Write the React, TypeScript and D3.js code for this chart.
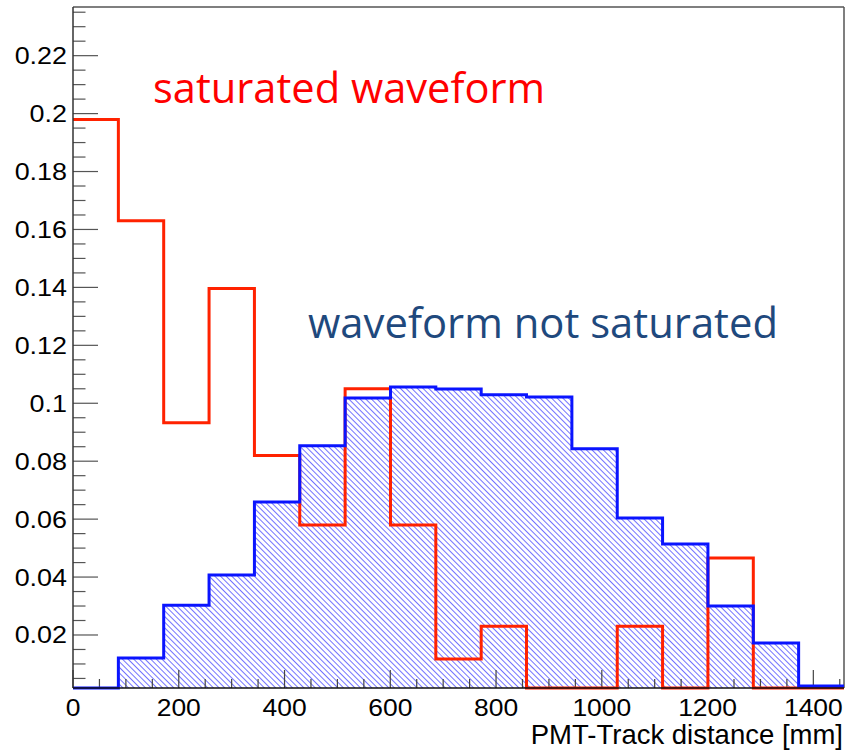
import React from "react";
import * as d3 from "d3";

const binEdges = [0, 85.8, 171.5, 257.3, 343.1, 428.8, 514.6, 600.4, 686.1, 771.9, 857.6, 943.4, 1029.2, 1114.9, 1200.7, 1286.5, 1372.2, 1458];
const saturated = [0.198, 0.163, 0.0933, 0.1396, 0.082, 0.058, 0.105, 0.058, 0.0117, 0.023, 0, 0, 0.023, 0, 0.0466, 0, 0];
const notSaturated = [0, 0.01205, 0.0303, 0.0407, 0.0659, 0.0853, 0.1018, 0.1056, 0.1049, 0.1029, 0.1022, 0.0843, 0.0604, 0.0514, 0.03, 0.0172, 0.0024];
const xTickValues = [0, 200, 400, 600, 800, 1000, 1200, 1400];
const yTickValues = [0.02, 0.04, 0.06, 0.08, 0.1, 0.12, 0.14, 0.16, 0.18, 0.2, 0.22];
const yTickLabels = ["0.02", "0.04", "0.06", "0.08", "0.1", "0.12", "0.14", "0.16", "0.18", "0.2", "0.22"];
const xTitle = "PMT-Track distance [mm]";
const labelSaturated = "saturated waveform";
const labelNotSaturated = "waveform not saturated";

const W = 848, H = 751;
const L = 73, R = 844, T = 7, B = 688;
const X_MAX = 1458, Y_MIN = 0.0017, Y_MAX = 0.2368;

export default function App() {
  const x = d3.scaleLinear().domain([0, X_MAX]).range([L, R]);
  const y = d3.scaleLinear().domain([Y_MIN, Y_MAX]).range([B, T]);
  const yc = (v: number) => y(Math.max(v, Y_MIN));

  const stepPath = (vals: number[]) => {
    let p = `M${x(binEdges[0])},${yc(vals[0])}`;
    vals.forEach((v, i) => {
      if (i > 0) p += `V${yc(v)}`;
      p += `H${x(binEdges[i + 1])}`;
    });
    return p;
  };
  const fillPath = (vals: number[]) => {
    let p = `M${x(binEdges[0])},${B}`;
    vals.forEach((v, i) => {
      p += `V${yc(v)}H${x(binEdges[i + 1])}`;
    });
    p += `V${B}Z`;
    return p;
  };

  const xMinor = d3.range(0, X_MAX, 50).filter((v) => v % 200 !== 0);
  const yMinor = d3.range(0.005, Y_MAX, 0.005).filter((v) => Math.abs(v / 0.02 - Math.round(v / 0.02)) > 1e-6);

  const tickFont = "'Liberation Sans', Arial, Helvetica, sans-serif";
  const axisCol = "#333";

  return (
    <svg width={W} height={H} style={{ position: "absolute", left: 0, top: 0, background: "#fff" }}>
      <defs>
        <pattern id="hatch" patternUnits="userSpaceOnUse" width={4} height={4} patternTransform="rotate(-45)">
          <line x1={0.5} y1={0} x2={0.5} y2={4} stroke="#0000ff" strokeWidth={1} opacity={0.55} />
        </pattern>
      </defs>
      <rect x={0} y={0} width={W} height={H} fill="#fff" />

      {/* hatched fill for not saturated */}
      <path d={fillPath(notSaturated)} fill="url(#hatch)" stroke="none" />

      {/* frame */}
      <line x1={L} y1={T} x2={R} y2={T} stroke="#555" strokeWidth={1.5} />
      <line x1={R} y1={T} x2={R} y2={B} stroke="#555" strokeWidth={1.5} />

      {/* y axis ticks */}
      {yTickValues.map((v) => (
        <line key={"ym" + v} x1={L} x2={L + 25} y1={y(v)} y2={y(v)} stroke="#555" strokeWidth={1.2} />
      ))}
      {yMinor.map((v) => (
        <line key={"yn" + v} x1={L} x2={L + 12.5} y1={y(v)} y2={y(v)} stroke="#555" strokeWidth={1.2} />
      ))}
      {/* x axis ticks */}
      {xTickValues.map((v) => (
        <line key={"xm" + v} x1={x(v)} x2={x(v)} y1={B} y2={B - 18} stroke="#444" strokeWidth={1.2} />
      ))}
      {xMinor.map((v) => (
        <line key={"xn" + v} x1={x(v)} x2={x(v)} y1={B} y2={B - 9} stroke="#444" strokeWidth={1.2} />
      ))}

      {/* saturated histogram */}
      <path d={stepPath(saturated)} fill="none" stroke="#ff2200" strokeWidth={3} />
      {/* not saturated histogram outline */}
      <path d={stepPath(notSaturated)} fill="none" stroke="#0a14ff" strokeWidth={3} />

      {/* axes lines */}
      <line x1={L} y1={T} x2={L} y2={B} stroke={axisCol} strokeWidth={1.5} />
      <line x1={L} y1={B} x2={R} y2={B} stroke="#111" strokeWidth={1.5} />

      {/* y tick labels */}
      {yTickValues.map((v, i) => (
        <g key={"yl" + v} transform={`translate(67,${y(v) + 8.5}) scale(1.17,1)`}>
          <text textAnchor="end" fontFamily={tickFont} fontSize={23} fill="#000">
            {yTickLabels[i]}
          </text>
        </g>
      ))}
      {/* x tick labels */}
      {xTickValues.map((v) => (
        <g key={"xl" + v} transform={`translate(${x(v)},716) scale(1.15,1)`}>
          <text textAnchor="middle" fontFamily={tickFont} fontSize={23} fill="#000">
            {String(v)}
          </text>
        </g>
      ))}
      <text x={843} y={744} textAnchor="end" fontFamily={tickFont} fontSize={27.5} fill="#000">
        {xTitle}
      </text>

      {/* annotations */}
      <text x={153} y={103} fontFamily="'Open Sans', 'Noto Sans', sans-serif" fontSize={42} fill="#ff0000"
        textLength={392} lengthAdjust="spacingAndGlyphs">
        {labelSaturated}
      </text>
      <text x={308} y={338} fontFamily="'Open Sans', 'Noto Sans', sans-serif" fontSize={42} fill="#1f497d"
        textLength={470} lengthAdjust="spacingAndGlyphs">
        {labelNotSaturated}
      </text>
    </svg>
  );
}
